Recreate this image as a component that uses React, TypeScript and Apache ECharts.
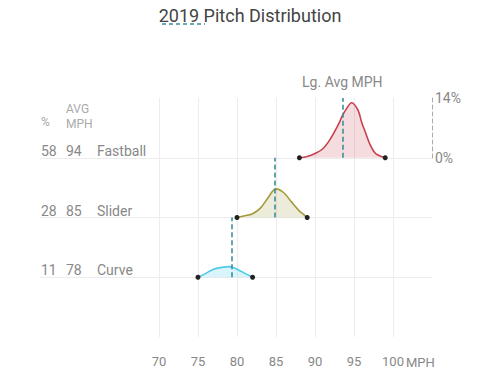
import React, { useEffect, useRef } from "react";
import * as echarts from "echarts";

const pitchNames = ["Fastball", "Slider", "Curve"];
const usagePct = [58, 28, 11];
const avgMph = [94, 85, 78];
const leagueAvgMph = [93.5, 84.9, 79.3];
const lineColors = ["#c8414f", "#a39b3b", "#4fcaea"];
const fillColors = ["rgba(200,65,79,0.26)", "rgba(163,155,59,0.28)", "rgba(79,202,234,0.30)"];

const fastballMph = [88, 89, 90, 91, 92, 93, 93.5, 94, 94.7, 95.5, 96, 96.5, 97, 97.5, 98, 99];
const fastballPct = [0, 0.3, 1.0, 2.1, 4.5, 7.8, 9.8, 11.4, 12.9, 11.2, 8.2, 5.8, 3.3, 1.6, 0.7, 0];
const sliderMph = [80, 81, 82, 83, 84, 85, 86, 87, 88, 88.5, 89];
const sliderPct = [0, 0.4, 0.9, 2.2, 4.7, 6.7, 5.8, 3.6, 1.5, 0.8, 0];
const curveMph = [75, 76, 77, 78, 79, 79.5, 80.5, 82];
const curvePct = [0, 0.9, 1.9, 2.3, 2.5, 2.3, 1.4, 0];

const xTicks = [70, 75, 80, 85, 90, 95, 100];
const ROW = 14; // each row spans 0–14%

const densityMph = [fastballMph, sliderMph, curveMph];
const densityPct = [fastballPct, sliderPct, curvePct];

export default function App() {
  const ref = useRef<HTMLDivElement>(null);
  useEffect(() => {
    if (!ref.current) return;
    const chart = echarts.init(ref.current, null, { renderer: "svg" });
    const font = "Roboto";
    const teal = "#3b8f9b";

    const series: any[] = pitchNames.map((name, i) => {
      const base = (pitchNames.length - i) * ROW;
      const xs = densityMph[i];
      const ys = densityPct[i];
      const data = xs.map((x, k) => {
        const end = k === 0 || k === xs.length - 1;
        return {
          value: [x, base + ys[k]],
          symbol: end ? "circle" : "none",
          symbolSize: end ? 5 : 0,
          itemStyle: { color: "#222" },
        };
      });
      return {
        name,
        type: "line",
        xAxisIndex: 0,
        yAxisIndex: 0,
        smooth: 0.35,
        showSymbol: true,
        data,
        lineStyle: { color: lineColors[i], width: 1.6 },
        areaStyle: { color: fillColors[i], origin: base },
        z: 3,
        markLine: {
          silent: true,
          symbol: "none",
          animation: false,
          lineStyle: { color: teal, type: [5, 3], width: 1.6 },
          label:
            i === 0
              ? {
                  show: true,
                  position: "end",
                  formatter: "Lg. Avg MPH",
                  color: "#888",
                  fontSize: 14,
                  fontFamily: font,
                  distance: 9,
                }
              : { show: false },
          data: [[{ coord: [leagueAvgMph[i], base] }, { coord: [leagueAvgMph[i], base + ROW] }]],
        },
      };
    });

    const rowLabelByValue: Record<number, string> = {};
    pitchNames.forEach((name, i) => {
      rowLabelByValue[(pitchNames.length - i) * ROW] = `{a|${usagePct[i]}}{b|${avgMph[i]}}{c|${name}}`;
    });

    const option: any = {
      animation: false,
      textStyle: { fontFamily: font },
      title: {
        text: "2019 Pitch Distribution",
        left: "center",
        top: 1,
        textStyle: { fontSize: 18, fontWeight: "normal", color: "#444", fontFamily: font },
      },
      grid: [
        { left: 159, right: 68, top: 98, bottom: 49 },
        { left: 40, right: 68, top: 98, bottom: 49 },
        { left: 159, right: 68, top: 98, bottom: 228 },
      ],
      xAxis: [
        {
          type: "value",
          gridIndex: 0,
          min: 70,
          max: 105,
          interval: 5,
          axisLine: { show: false },
          axisTick: { show: false },
          splitLine: { show: true, showMaxLine: false, lineStyle: { color: "#ececec", width: 1 } },
          axisLabel: {
            color: "#888",
            fontSize: 13,
            margin: 18,
            fontFamily: font,
            formatter: (v: number) => (xTicks.includes(v) ? String(v) : ""),
          },
        },
        { type: "value", gridIndex: 1, min: 0, max: 1, show: false },
        { type: "value", gridIndex: 2, min: 0, max: 1, show: false },
      ],
      yAxis: [
        {
          type: "value",
          gridIndex: 0,
          min: 0,
          max: (pitchNames.length + 1) * ROW,
          interval: ROW,
          show: false,
          splitLine: { show: false },
        },
        {
          type: "value",
          gridIndex: 1,
          min: 0,
          max: (pitchNames.length + 1) * ROW,
          interval: ROW,
          axisLine: { show: false, onZero: false },
          axisTick: { show: false },
          splitLine: {
            show: true,
            showMinLine: false,
            showMaxLine: false,
            lineStyle: { color: "#ececec", width: 1 },
          },
          axisLabel: {
            inside: true,
            margin: 1,
            verticalAlign: "bottom",
            color: "#888",
            fontSize: 14,
            fontFamily: font,
            formatter: (v: number) => rowLabelByValue[v] || "",
            rich: {
              a: { width: 25, fontSize: 14, color: "#888", fontFamily: font },
              b: { width: 31, fontSize: 14, color: "#888", fontFamily: font },
              c: { fontSize: 14, color: "#888", fontFamily: font },
            },
          },
        },
        {
          type: "value",
          gridIndex: 2,
          position: "right",
          min: 0,
          max: ROW,
          interval: ROW,
          axisLine: { show: true, onZero: false, lineStyle: { color: "#aaa", type: [4, 3], width: 1 } },
          axisTick: { show: false },
          splitLine: { show: false },
          axisLabel: {
            color: "#888",
            fontSize: 14,
            margin: 3,
            fontFamily: font,
            padding: [0, 0, 7, 0],
            formatter: (v: number) => `${v}%`,
          },
        },
      ],
      graphic: [
        {
          type: "line",
          shape: { x1: 162, y1: 24, x2: 205, y2: 24 },
          style: { stroke: teal, lineWidth: 1.6, lineDash: [4, 3] },
        },
        {
          type: "text",
          left: 41,
          top: 116,
          style: { text: "%", fill: "#aaa", fontSize: 12, fontFamily: font },
        },
        {
          type: "text",
          left: 66,
          top: 101,
          style: { text: "AVG\nMPH", fill: "#aaa", fontSize: 12, lineHeight: 15, fontFamily: font },
        },
        {
          type: "text",
          left: 406,
          top: 356,
          style: { text: "MPH", fill: "#888", fontSize: 13, fontFamily: font },
        },
      ],
      series,
    };
    chart.setOption(option);
    return () => chart.dispose();
  }, []);
  return <div ref={ref} style={{ width: 500, height: 386, margin: -8 }} />;
}
